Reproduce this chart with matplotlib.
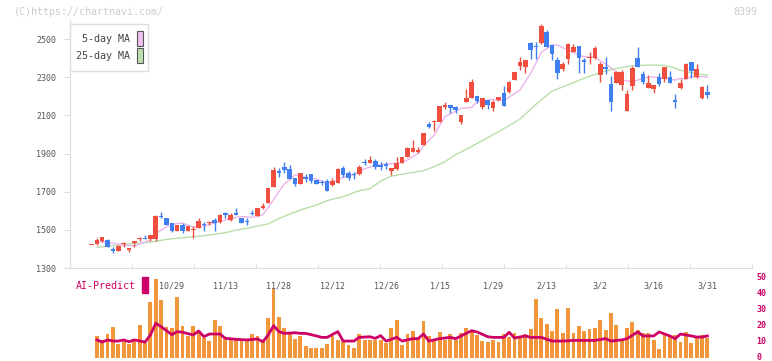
import numpy as np
import matplotlib.pyplot as plt
from matplotlib.patches import Rectangle
from matplotlib.transforms import ScaledTranslation

W, H = 772, 361

# daily candles (index 0 .. 115)
opens = [1420, 1424, 1441, 1447, 1398, 1390, 1427, 1394, 1432, 1450,
         1459, 1452, 1450, 1574, 1562, 1534, 1496, 1527, 1494, 1499,
         1511, 1529, 1535, 1551, 1539, 1586, 1550, 1587, 1562, 1545,
         1590, 1572, 1616, 1642, 1726, 1808, 1831, 1819, 1770, 1740,
         1778, 1793, 1761, 1752, 1757, 1733, 1748, 1826, 1798, 1791,
         1791, 1856, 1850, 1861, 1838, 1843, 1810, 1817, 1850, 1883,
         1910, 1908, 1945, 2054, 2063, 2067, 2142, 2154, 2145, 2067,
         2172, 2193, 2201, 2145, 2180, 2140, 2180, 2215, 2224, 2285,
         2360, 2355, 2482, 2465, 2477, 2535, 2468, 2390, 2343, 2393,
         2432, 2463, 2390, 2399, 2402, 2311, 2353, 2264, 2271, 2259,
         2124, 2255, 2402, 2317, 2243, 2238, 2303, 2289, 2301, 2180,
         2243, 2292, 2379, 2299, 2192, 2224]
highs = [1422, 1455, 1462, 1452, 1410, 1418, 1438, 1403, 1442, 1464,
         1473, 1474, 1578, 1595, 1564, 1536, 1527, 1534, 1522, 1520,
         1560, 1543, 1548, 1560, 1583, 1593, 1586, 1613, 1563, 1562,
         1604, 1613, 1639, 1721, 1828, 1822, 1854, 1840, 1772, 1798,
         1791, 1795, 1763, 1761, 1768, 1770, 1824, 1834, 1807, 1803,
         1841, 1871, 1887, 1869, 1856, 1854, 1826, 1883, 1882, 1936,
         1971, 1936, 2010, 2065, 2074, 2151, 2172, 2156, 2147, 2103,
         2238, 2290, 2203, 2191, 2182, 2180, 2196, 2254, 2282, 2327,
         2404, 2392, 2484, 2486, 2579, 2547, 2470, 2404, 2381, 2482,
         2472, 2465, 2402, 2432, 2463, 2379, 2404, 2306, 2334, 2338,
         2233, 2358, 2460, 2332, 2311, 2259, 2324, 2355, 2332, 2212,
         2289, 2376, 2381, 2369, 2254, 2259]
lows = [1419, 1420, 1434, 1408, 1377, 1388, 1412, 1386, 1412, 1443,
        1450, 1443, 1443, 1562, 1525, 1490, 1494, 1485, 1492, 1455,
        1511, 1496, 1524, 1496, 1536, 1562, 1547, 1576, 1537, 1528,
        1576, 1570, 1607, 1640, 1726, 1778, 1799, 1766, 1731, 1738,
        1752, 1747, 1738, 1735, 1703, 1730, 1745, 1778, 1761, 1765,
        1790, 1841, 1848, 1817, 1812, 1817, 1787, 1814, 1848, 1882,
        1908, 1904, 1943, 2032, 2020, 2065, 2131, 2110, 2110, 2053,
        2170, 2190, 2166, 2131, 2131, 2124, 2178, 2150, 2215, 2283,
        2337, 2320, 2395, 2395, 2475, 2456, 2392, 2290, 2332, 2367,
        2430, 2320, 2324, 2369, 2393, 2276, 2316, 2124, 2269, 2233,
        2124, 2233, 2353, 2264, 2241, 2219, 2255, 2277, 2269, 2140,
        2238, 2290, 2294, 2297, 2186, 2192]
closes = [1421, 1447, 1462, 1412, 1390, 1417, 1430, 1403, 1441, 1455,
          1454, 1473, 1572, 1566, 1525, 1496, 1527, 1496, 1522, 1503,
          1546, 1524, 1540, 1534, 1576, 1580, 1576, 1579, 1537, 1541,
          1585, 1613, 1625, 1721, 1813, 1800, 1814, 1768, 1740, 1798,
          1768, 1756, 1740, 1744, 1703, 1757, 1819, 1788, 1772, 1785,
          1831, 1850, 1868, 1828, 1830, 1835, 1824, 1850, 1882, 1930,
          1930, 1918, 2009, 2038, 2072, 2149, 2154, 2140, 2128, 2102,
          2189, 2275, 2175, 2189, 2156, 2172, 2194, 2151, 2275, 2325,
          2379, 2390, 2444, 2457, 2568, 2460, 2420, 2324, 2369, 2474,
          2456, 2402, 2380, 2407, 2453, 2369, 2341, 2172, 2327, 2329,
          2212, 2350, 2355, 2275, 2268, 2257, 2264, 2353, 2271, 2172,
          2268, 2369, 2334, 2343, 2247, 2208]

# moving averages (index, value)
ma5_idx = [1, 3, 4, 6, 8, 9, 11, 12, 14, 16, 17, 19, 21, 24, 26, 28, 30, 31,
           32, 33, 34, 36, 38, 40, 42, 44, 45, 47, 49, 51, 53, 55, 57, 58, 59,
           61, 62, 64, 66, 69, 71, 72, 75, 77, 80, 82, 84, 86, 87, 89, 91, 92,
           94, 96, 98, 99, 101, 102, 104, 106, 109, 110, 111, 112, 113, 114, 115]
ma5_val = [1438, 1435, 1430, 1420, 1415, 1425, 1447, 1480, 1516, 1534, 1535,
           1514, 1520, 1543, 1560, 1570, 1566, 1570, 1580, 1617, 1660, 1740,
           1788, 1775, 1766, 1744, 1752, 1775, 1790, 1820, 1838, 1845, 1849,
           1852, 1866, 1901, 1940, 1997, 2093, 2137, 2142, 2172, 2184, 2177,
           2233, 2320, 2430, 2470, 2468, 2442, 2416, 2407, 2404, 2370, 2329,
           2285, 2276, 2285, 2302, 2299, 2285, 2294, 2290, 2305, 2300, 2305, 2300]
ma25_idx = [1, 5, 8, 11, 14, 17, 21, 25, 27, 29, 31, 33, 35, 39, 42, 44, 47,
            50, 52, 54, 56, 59, 62, 64, 66, 68, 70, 73, 77, 80, 83, 86, 89,
            92, 95, 98, 101, 104, 107, 109, 110, 112, 115]
ma25_val = [1408, 1420, 1429, 1435, 1450, 1459, 1469, 1485, 1499, 1508, 1520,
            1531, 1560, 1604, 1630, 1653, 1674, 1705, 1716, 1755, 1782, 1796,
            1810, 1831, 1857, 1895, 1922, 1968, 2030, 2080, 2158, 2228, 2260,
            2295, 2325, 2346, 2360, 2364, 2362, 2348, 2336, 2324, 2311]

# lower pane: bars for index 1 .. 115
bars = [13.6, 11.1, 14.8, 19.2, 8.6, 11.1, 8.6, 11.1, 20.4, 9.0,
        35.0, 49.0, 36.0, 19.4, 18.4, 38.0, 20.0, 13.5, 20.0, 17.0,
        12.3, 10.4, 23.6, 20.0, 11.5, 11.1, 11.1, 11.1, 11.1, 14.6,
        13.8, 11.1, 24.6, 43.0, 25.4, 18.4, 15.5, 11.5, 13.5, 7.4,
        6.2, 6.2, 6.2, 8.8, 13.5, 11.1, 11.1, 8.0, 6.2, 14.8,
        11.1, 11.1, 11.1, 11.1, 9.4, 18.4, 23.6, 8.0, 14.8, 16.7,
        12.7, 23.0, 13.6, 10.4, 16.3, 11.1, 14.8, 11.1, 15.2, 18.4,
        16.3, 14.2, 10.4, 9.8, 11.1, 9.8, 14.8, 12.7, 15.6, 13.1,
        14.8, 17.7, 36.7, 24.6, 21.0, 16.7, 30.4, 15.4, 31.3, 15.6,
        19.8, 16.7, 17.7, 18.6, 23.6, 17.3, 28.2, 20.4, 11.1, 18.6,
        22.5, 17.3, 15.6, 15.6, 11.1, 5.6, 14.2, 12.7, 14.2, 10.0,
        16.3, 9.4, 13.1, 14.2, 12.5]
ai_idx = [1, 2, 3, 4, 5, 6, 7, 8, 10, 11, 12, 13, 14, 15, 16, 17, 19, 20, 21,
          22, 24, 25, 27, 29, 31, 32, 33, 34, 35, 36, 38, 39, 40, 42, 43, 44,
          46, 47, 49, 50, 52, 53, 54, 55, 57, 58, 60, 61, 62, 63, 65, 67, 68,
          69, 71, 72, 74, 75, 77, 78, 79, 81, 82, 84, 86, 88, 90, 92, 94, 96,
          97, 99, 100, 102, 103, 105, 106, 108, 109, 110, 112, 113, 114, 115]
ai_val = [11.1, 9.8, 11.1, 10.4, 10.4, 11.1, 10.0, 11.1, 9.8, 14.2, 21.5,
          19.4, 16.9, 14.4, 16.3, 15.9, 14.2, 16.7, 13.1, 14.8, 14.8, 12.1,
          11.5, 11.1, 11.7, 10.0, 14.2, 20.0, 16.3, 15.2, 15.6, 15.2, 15.2,
          13.6, 12.7, 12.7, 16.3, 10.4, 10.4, 12.7, 13.1, 12.1, 13.8, 10.4,
          12.7, 10.4, 11.9, 11.9, 14.8, 10.4, 11.9, 12.7, 11.9, 13.6, 16.9,
          16.1, 13.1, 12.7, 12.7, 15.9, 12.3, 13.6, 12.7, 12.7, 10.4, 10.4,
          10.8, 10.8, 10.8, 11.9, 10.4, 11.1, 11.9, 16.1, 13.6, 13.6, 16.1,
          13.6, 11.9, 14.8, 13.6, 12.9, 12.9, 13.6]

date_labels = ['10/29', '11/13', '11/28', '12/12', '12/26', '1/15',
               '1/29', '2/13', '3/2', '3/16', '3/31']
date_idx = [15, 25, 35, 45, 55, 65, 75, 85, 95, 105, 115]
price_ticks = [1300, 1500, 1700, 1900, 2100, 2300, 2500]
pane_ticks = [0, 10, 20, 30, 40, 50]

RED = '#f04e3e'
BLUE = '#3f7fef'
ORANGE = '#f2963c'
MAGENTA = '#cc0066'
GRID = '#dddddd'

plt.rcParams['font.family'] = 'DejaVu Sans Mono'


def fx(px):
    return px / W


def fy(py):
    return 1 - py / H


# x scale: candle i sits at pixel 91.5 + 5.355 * i
x0, step = 91.5, 5.355
xlim = ((70 - x0) / step, (752 - x0) / step)

fig = plt.figure(figsize=(W / 100, H / 100), dpi=100)

ax = fig.add_axes([fx(70), fy(268), fx(752) - fx(70), fy(20) - fy(268)])
ax.set_xlim(*xlim)
ax.set_ylim(1300, 2600)

ax.plot(ma25_idx, ma25_val, color='#b8dfaa', lw=1, zorder=1)
ax.plot(ma5_idx, ma5_val, color='#ebb4eb', lw=1, zorder=1)

o = np.array(opens)
c = np.array(closes)
idx = np.arange(len(o))
up = c >= o
colors = np.where(up, RED, BLUE)
ax.vlines(idx, lows, highs, colors=colors, lw=1, zorder=2)
body_lo = np.minimum(o, c)
body_h = np.maximum(np.abs(c - o), 5)
ax.bar(idx, body_h, bottom=body_lo, width=0.85, color=colors, zorder=3)

for side in ['top', 'right']:
    ax.spines[side].set_visible(False)
for side in ['left', 'bottom']:
    ax.spines[side].set_color(GRID)
ax.set_yticks(price_ticks)
ax.tick_params(axis='y', direction='out', length=4, color=GRID,
               labelsize=6, labelcolor='#555555', pad=6)
ax.set_xticks([(70 + 62 * k - x0) / step for k in range(12)])
ax.tick_params(axis='x', direction='in', length=3, color=GRID,
               labelbottom=False)

# lower pane
ax2 = fig.add_axes([fx(70), fy(357.7), fx(752) - fx(70), (357.7 - 270) / H])
ax2.set_xlim(*xlim)
ax2.set_ylim(0, (357.7 - 270) / 1.6)
ax2.bar(np.arange(1, len(bars) + 1), bars, width=0.72, color=ORANGE, zorder=1)
ax2.plot(ai_idx, ai_val, color=MAGENTA, lw=2, zorder=2)
for s in ax2.spines.values():
    s.set_visible(False)
ax2.set_xticks([])
ax2.yaxis.tick_right()
ax2.set_yticks(pane_ticks)
ax2.tick_params(axis='y', length=0, pad=3, labelsize=6, labelcolor=MAGENTA)
lift = ScaledTranslation(0, 1.5 / 100, fig.dpi_scale_trans)
for t in ax2.get_yticklabels():
    t.set_fontweight('bold')
    t.set_transform(t.get_transform() + lift)
ax2.patch.set_alpha(0)
for i, lbl in zip(date_idx, date_labels):
    ax2.text(i, (357.7 - 286) / 1.6, lbl, ha='center', va='center',
             fontsize=6, color='#555555')

fig.text(fx(76), fy(286), 'AI-Predict', ha='left', va='center',
         fontsize=7.2, color=MAGENTA)
fig.patches.append(Rectangle((fx(142), fy(293)), fx(6), 16 / H,
                             transform=fig.transFigure, color=MAGENTA))

# legend box
fig.patches.append(Rectangle((fx(70), fy(71)), fx(78), 47 / H,
                             transform=fig.transFigure, facecolor='white',
                             edgecolor=GRID, lw=1, zorder=5))
fig.patches.append(Rectangle((fx(136.5), fy(46)), fx(6), 15 / H,
                             transform=fig.transFigure, facecolor='#f0c0f0',
                             edgecolor='#555555', lw=0.8, zorder=6))
fig.patches.append(Rectangle((fx(136.5), fy(63)), fx(6), 15 / H,
                             transform=fig.transFigure, facecolor='#c0e0b0',
                             edgecolor='#555555', lw=0.8, zorder=6))
fig.text(fx(130), fy(39.5), '5-day MA', ha='right', va='center',
         fontsize=7.2, color='#444444', zorder=7)
fig.text(fx(130), fy(56), '25-day MA', ha='right', va='center',
         fontsize=7.2, color='#444444', zorder=7)

fig.text(fx(14), fy(12), '(C)https://chartnavi.com/', ha='left', va='center',
         fontsize=7.2, color='#cccccc')
fig.text(fx(757), fy(12), '8399', ha='right', va='center',
         fontsize=7.2, color='#cccccc')

fig.savefig('out.png', dpi=100)
